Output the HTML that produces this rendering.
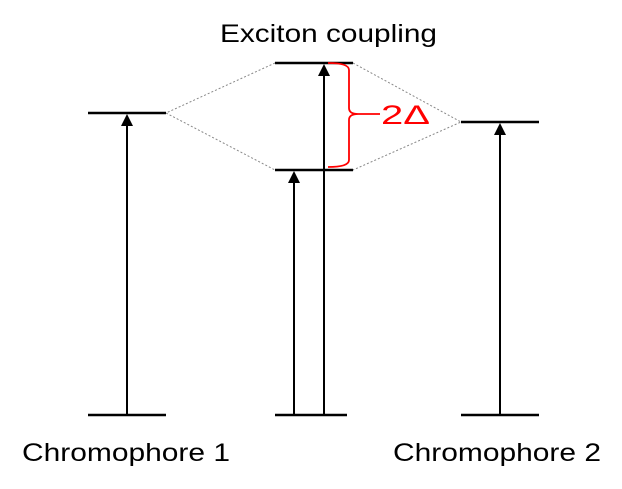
<!DOCTYPE html>
<html><head><style>body{margin:0;background:#fff}svg{display:block}</style></head><body>
<svg width="622" height="489" xmlns="http://www.w3.org/2000/svg">
<g stroke="#000" stroke-width="2.5">
<line x1="88" y1="113" x2="166" y2="113"/>
<line x1="275" y1="63" x2="353" y2="63"/>
<line x1="275" y1="170" x2="353" y2="170"/>
<line x1="461" y1="122" x2="539" y2="122"/>
<line x1="88" y1="415" x2="166" y2="415"/>
<line x1="275" y1="415" x2="347" y2="415"/>
<line x1="461" y1="415" x2="539" y2="415"/>
</g>
<g stroke="#888" stroke-width="1" stroke-dasharray="2,2" fill="none">
<polyline points="275,63 166,113 275,170"/>
<polyline points="353,63 461,122 353,170"/>
</g>
<g fill="#000">
<line x1="127" y1="415" x2="127" y2="124" stroke="#000" stroke-width="2"/><path d="M121,126 L127,114 L133,126Z"/>
<line x1="500" y1="415" x2="500" y2="133" stroke="#000" stroke-width="2"/><path d="M494,135 L500,123 L506,135Z"/>
<line x1="294" y1="415" x2="294" y2="181" stroke="#000" stroke-width="2"/><path d="M288,183 L294,171 L300,183Z"/>
<line x1="324" y1="415" x2="324" y2="74" stroke="#000" stroke-width="2"/><path d="M318,76 L324,64 L330,76Z"/>
</g>
<path d="M328,63 Q349,63 349,70 L349,108 Q349,114 358,114 L380,114 M358,114 Q349,114 349,120 L349,160 Q349,167 328,167" stroke="#f00" stroke-width="1.8" fill="none"/>
<text x="381" y="124" font-family="Liberation Sans, sans-serif" font-size="27" fill="#f00" textLength="49" lengthAdjust="spacingAndGlyphs">2Δ</text>
<g font-family="Liberation Sans, sans-serif" font-size="25" fill="#000" lengthAdjust="spacingAndGlyphs">
<text x="220" y="42" textLength="217" lengthAdjust="spacingAndGlyphs">Exciton coupling</text>
<text x="22" y="461" textLength="208" lengthAdjust="spacingAndGlyphs">Chromophore 1</text>
<text x="393" y="461" textLength="208" lengthAdjust="spacingAndGlyphs">Chromophore 2</text>
</g>
</svg>
</body></html>
